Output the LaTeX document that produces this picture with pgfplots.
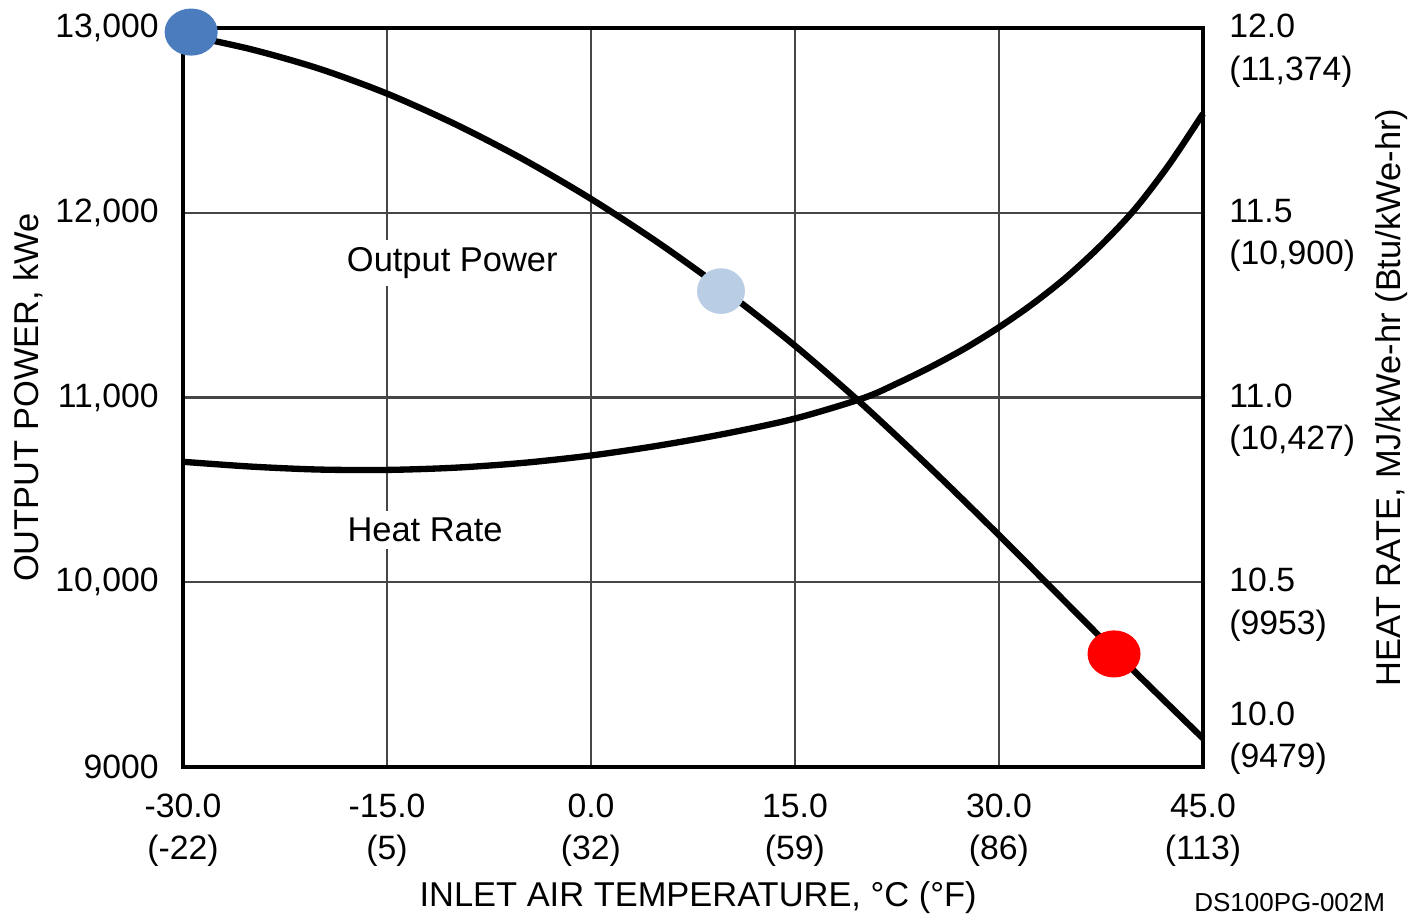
\documentclass[border=0pt]{standalone}
\usepackage{fontspec}
\setmainfont{Liberation Sans}
\usepackage{pgfplots}
\pgfplotsset{compat=1.18}
\definecolor{dotdark}{RGB}{74,124,190}
\definecolor{dotlight}{RGB}{185,205,229}
\definecolor{gridgray}{RGB}{70,70,70}

\newcommand{\tickfont}{\fontsize{9.6}{12.1}\selectfont}
\newcommand{\labfont}{\fontsize{9.8}{12}\selectfont}

\begin{document}
\begin{tikzpicture}
\useasboundingbox (-1.83,-1.54) rectangle (12.31,7.67);
\pgfplotsset{
  common/.style={
    at={(0,0)}, anchor=south west,
    scale only axis, width=10.2cm, height=7.39cm,
    xmin=-30, xmax=45,
    major tick length=0pt,
    clip=false,
    scaled y ticks=false,
    /pgf/number format/assume math mode=true,
  }
}
% output power, left axis
\begin{axis}[
  common,
  ymin=9000, ymax=13000,
  xtick={-30,-15,0,15,30,45},
  xticklabels={{-30.0\\(-22)},{-15.0\\(5)},{0.0\\(32)},{15.0\\(59)},{30.0\\(86)},{45.0\\(113)}},
  xticklabel style={align=center, font=\tickfont, yshift=-4pt},
  ytick={9000,10000,11000,12000,13000},
  yticklabels={9000,{10,000},{11,000},{12,000},{13,000}},
  yticklabel style={font=\tickfont, xshift=-0.12cm},
  grid=major,
  grid style={gridgray, line width=0.6pt},
  axis line style={line width=1pt},
  xlabel={INLET AIR TEMPERATURE, °C (°F)},
  xlabel style={at={(axis description cs:0.505,-0.177)}, anchor=center, font=\labfont},
  ylabel={OUTPUT POWER, kWe},
  ylabel style={at={(axis description cs:-0.152,0.5)}, anchor=center, font=\labfont},
]
\addplot[black, line width=1.8pt, smooth] coordinates {
  (-30,12965) (-25,12885) (-20,12780) (-15,12645) (-10,12480) (-5,12290)
  (0,12075) (5,11835) (10,11570) (15,11280) (20,10960) (25,10615)
  (30,10255) (35,9885) (40,9515) (45,9155)
};
\addplot[only marks, mark=*, mark size=6.5pt, mark options={fill=dotdark, draw=dotdark, xscale=1.13}]
  coordinates {(-29.4,12978)};
\addplot[only marks, mark=*, mark size=6.3pt, mark options={fill=dotlight, draw=dotlight, xscale=1.05}]
  coordinates {(9.56,11576)};
\addplot[only marks, mark=*, mark size=6.5pt, mark options={fill=red, draw=red, xscale=1.13}]
  coordinates {(38.46,9612)};
\node[font=\labfont, fill=white, inner sep=2pt] at (axis cs:-10.2,11728) {Output Power};
\node[font=\labfont, fill=white, inner sep=2pt] at (axis cs:-12.2,10283) {Heat Rate};
\node[font=\fontsize{7.4}{9}\selectfont] at (axis description cs:1.085,-0.184) {DS100PG-002M};
\end{axis}
% heat rate, right axis
\begin{axis}[
  common,
  ymin=10, ymax=12,
  axis y line*=right,
  hide x axis,
  axis line style={line width=1pt},
  ytick={10.5,11,11.5,12},
  yticklabels={{10.5\\(9953)},{11.0\\(10,427)},{11.5\\(10,900)},{12.0\\(11,374)}},
  yticklabel style={align=left, font=\tickfont, anchor=north west, xshift=0.14cm, yshift=7.5pt},
  extra y ticks={10},
  extra y tick labels={{10.0\\(9479)}},
  extra y tick style={yticklabel style={anchor=south west, yshift=-13.3pt}},
  ylabel={HEAT RATE, MJ/kWe-hr (Btu/kWe-hr)},
  ylabel style={at={(axis description cs:1.185,0.5)}, anchor=center, rotate=0, font=\labfont},
]
\addplot[black, line width=1.8pt, smooth] coordinates {
  (-30,10.826) (-25,10.813) (-20,10.805) (-15,10.804) (-10,10.810) (-5,10.823)
  (0,10.843) (5,10.870) (10,10.903) (15,10.943) (20,10.998)
  (22.5,11.038) (25,11.083) (27.5,11.133) (30,11.190) (32.5,11.254)
  (35,11.327) (37.5,11.412) (40,11.510) (42.5,11.630) (45,11.768)
};
\end{axis}
\end{tikzpicture}
\end{document}
